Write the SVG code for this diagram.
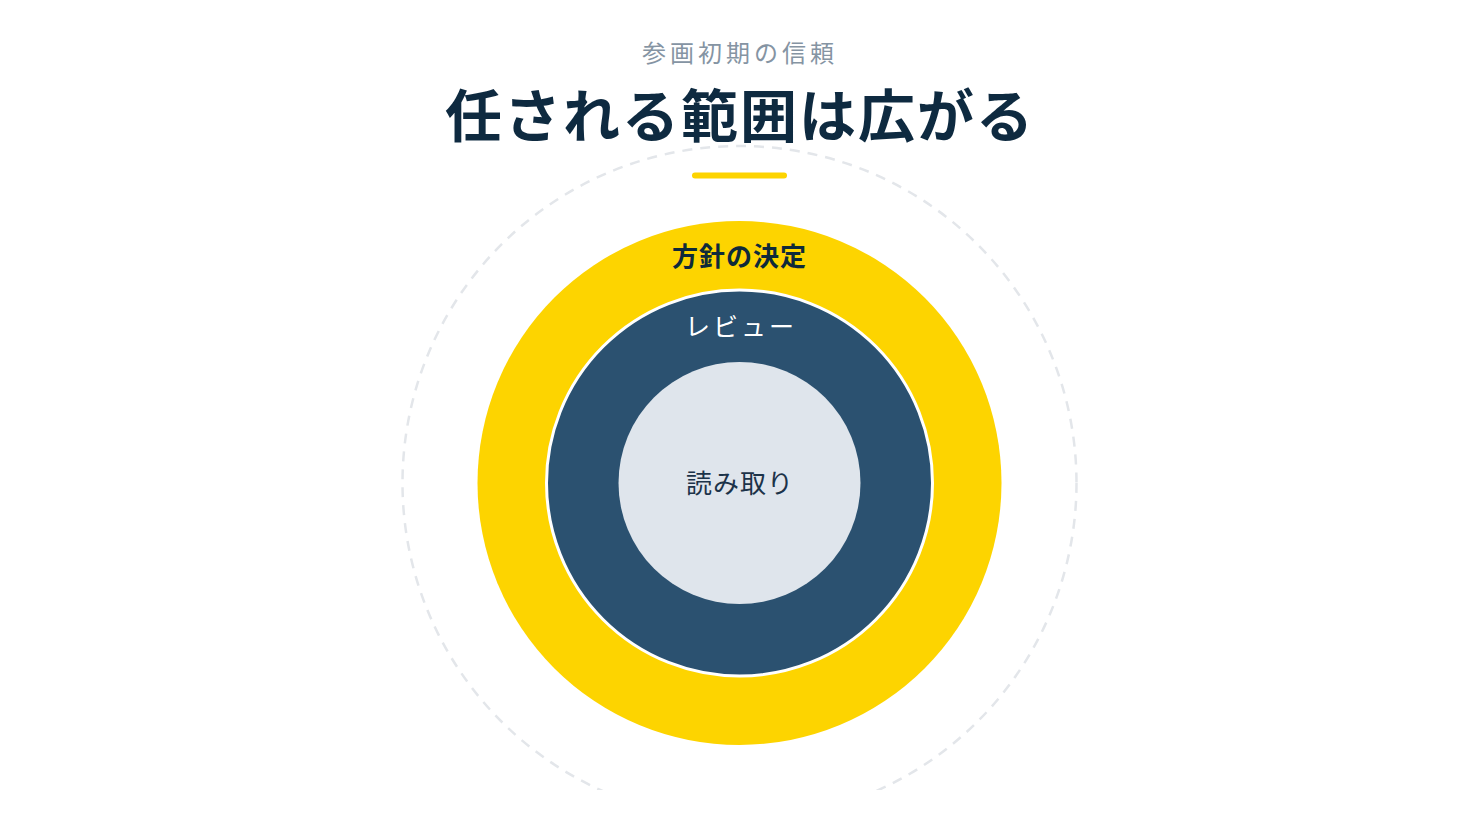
<svg xmlns="http://www.w3.org/2000/svg" width="1480" height="832" viewBox="0 0 1480 832">
<style>
.jp{font-family:"Noto Sans CJK JP","Noto Sans",sans-serif;text-anchor:middle}
</style>
<defs>
<clipPath id="clip"><rect x="0" y="0" width="1480" height="790"/></clipPath>
</defs>
<rect width="1480" height="832" fill="#ffffff"/>
<g id="outer-dashed" clip-path="url(#clip)">
<circle cx="739.5" cy="483" r="337" fill="none" stroke="#e3e6ea" stroke-width="2.5" stroke-dasharray="10 8"/>
</g>
<g id="header">
<text class="jp" x="740" y="62" font-size="24" fill="#8594a3" letter-spacing="4">参画初期の信頼</text>
<text class="jp" x="740" y="137" font-size="57" font-weight="700" fill="#0e2a40" letter-spacing="2">任される範囲は広がる</text>
<rect x="692" y="172.5" width="95" height="6" rx="3" fill="#fdd400"/>
</g>
<g id="ring-policy">
<circle cx="739.5" cy="483" r="262" fill="#fdd400"/>
<text class="jp" x="739.5" y="266" font-size="26" font-weight="700" fill="#0e2a3a" letter-spacing="1">方針の決定</text>
</g>
<g id="ring-review">
<circle cx="739.5" cy="483" r="193" fill="#2b5170" stroke="#ffffff" stroke-width="3"/>
<text class="jp" x="741" y="336" font-size="25" fill="#ffffff" letter-spacing="3">レビュー</text>
</g>
<g id="core-read">
<circle cx="739.5" cy="483" r="121" fill="#dfe5ec"/>
<text class="jp" x="740" y="493" font-size="26" fill="#1c3349" letter-spacing="1">読み取り</text>
</g>
</svg>
